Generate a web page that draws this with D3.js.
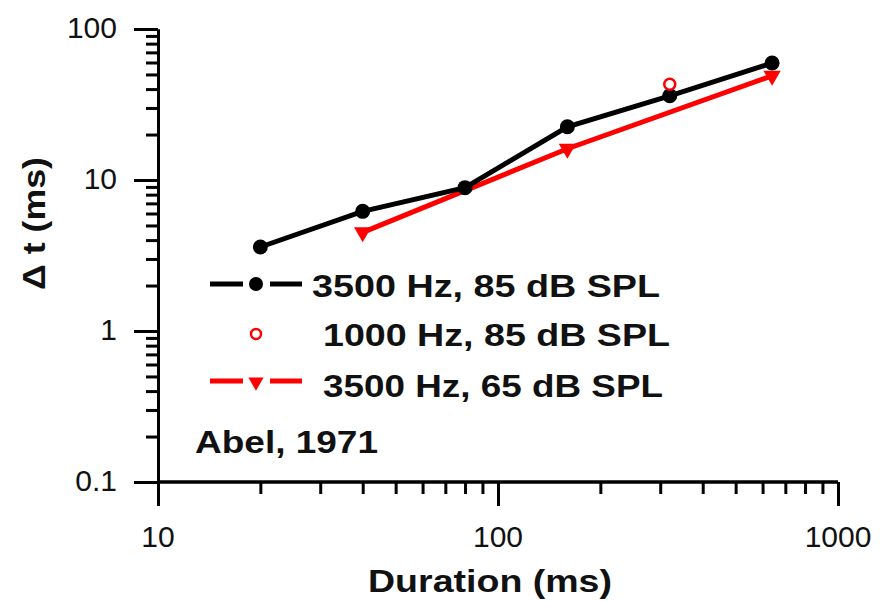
<!DOCTYPE html>
<html><head><meta charset="utf-8">
<script src="https://cdn.jsdelivr.net/npm/d3@7"></script>
<style>body{margin:0;background:#fff}svg{display:block}</style>
</head><body>
<svg id="c" width="880" height="601"></svg>
<script>
// Data
const durBlack = [20, 40, 80, 160, 320, 640];
const dtBlack = [3.6, 6.2, 8.9, 22.5, 36.1, 59.5];
const durOpen = [320];
const dtOpen = [43];
const durRed = [40, 160, 640];
const dtRed = [4.5, 16.1, 49];
const xMajor = [10, 100, 1000];
const xTickLabels = ["10", "100", "1000"];
const yMajor = [0.1, 1, 10, 100];
const yTickLabels = ["0.1", "1", "10", "100"];
const legendLabels = ["3500 Hz, 85 dB SPL", "1000 Hz, 85 dB SPL", "3500 Hz, 65 dB SPL"];

const svg = d3.select("#c");
const x = d3.scaleLog().domain([10, 1000]).range([158, 838]);
const y = d3.scaleLog().domain([0.1, 100]).range([482, 29]);
const font = "'Liberation Sans', Arial, sans-serif";

// minor ticks
const xMinor = x.ticks().filter(v => !xMajor.includes(v));
const yMinor = y.ticks().filter(v => !yMajor.some(m => Math.abs(m - v) < 1e-9));

function styleAxis(g) {
  g.selectAll("path, line").attr("stroke", "#000").attr("stroke-width", 3);
  g.selectAll("text").remove();
}
const gx = svg.append("g").attr("transform", "translate(0,482)");
gx.append("g").call(d3.axisBottom(x).tickValues(xMinor).tickSize(12).tickSizeOuter(0)).call(styleAxis);
gx.append("g").call(d3.axisBottom(x).tickValues(xMajor).tickSize(24).tickSizeOuter(0)).call(styleAxis);
gx.selectAll("path.domain").attr("d", `M${x(10)},0H${x(1000)}`);

const gy = svg.append("g").attr("transform", "translate(158,0)");
gy.append("g").call(d3.axisLeft(y).tickValues(yMinor).tickSize(12).tickSizeOuter(0)).call(styleAxis);
gy.append("g").call(d3.axisLeft(y).tickValues(yMajor).tickSize(24).tickSizeOuter(0)).call(styleAxis);

// tick labels
svg.append("g").selectAll("text").data(xMajor).join("text")
  .attr("x", d => x(d)).attr("y", 547).attr("text-anchor", "middle")
  .attr("font-family", font).attr("font-size", 30).attr("fill", "#111")
  .text((d, i) => xTickLabels[i]);
svg.append("g").selectAll("text").data(yMajor).join("text")
  .attr("x", 117).attr("y", d => y(d) + 9).attr("text-anchor", "end")
  .attr("font-family", font).attr("font-size", 30).attr("fill", "#111")
  .text((d, i) => yTickLabels[i]);

// axis titles
svg.append("text").attr("x", 368).attr("y", 592)
  .attr("font-family", font).attr("font-size", 32).attr("font-weight", "bold").attr("fill", "#111")
  .attr("textLength", 244).attr("lengthAdjust", "spacingAndGlyphs").text("Duration (ms)");
svg.append("text").attr("transform", "translate(45,290) rotate(-90)")
  .attr("font-family", font).attr("font-size", 32).attr("font-weight", "bold").attr("fill", "#111")
  .attr("textLength", 133).attr("lengthAdjust", "spacingAndGlyphs").text("Δ t (ms)");

// series
const line = d3.line().x(d => x(d[0])).y(d => y(d[1]));
const redPts = durRed.map((d, i) => [d, dtRed[i]]);
const blackPts = durBlack.map((d, i) => [d, dtBlack[i]]);
const tri = d3.symbol().type(d3.symbolTriangle).size(130);

svg.append("path").datum(redPts).attr("d", line).attr("fill", "none")
  .attr("stroke", "#ff0000").attr("stroke-width", 5);
svg.append("g").selectAll("path").data(redPts).join("path")
  .attr("d", tri).attr("fill", "#ff0000")
  .attr("transform", d => `translate(${x(d[0])},${y(d[1])}) rotate(180)`);

svg.append("path").datum(blackPts).attr("d", line).attr("fill", "none")
  .attr("stroke", "#000").attr("stroke-width", 5);
svg.append("g").selectAll("circle").data(blackPts).join("circle")
  .attr("cx", d => x(d[0])).attr("cy", d => y(d[1])).attr("r", 7.5).attr("fill", "#000");

svg.append("g").selectAll("circle").data(durOpen.map((d, i) => [d, dtOpen[i]])).join("circle")
  .attr("cx", d => x(d[0])).attr("cy", d => y(d[1])).attr("r", 5.5)
  .attr("fill", "#fff").attr("stroke", "#ff0000").attr("stroke-width", 2.5);

// legend
const lg = svg.append("g");
// row 1
lg.append("line").attr("x1", 210).attr("x2", 243).attr("y1", 284).attr("y2", 284).attr("stroke", "#000").attr("stroke-width", 5);
lg.append("line").attr("x1", 270).attr("x2", 302).attr("y1", 284).attr("y2", 284).attr("stroke", "#000").attr("stroke-width", 5);
lg.append("circle").attr("cx", 256).attr("cy", 284).attr("r", 7).attr("fill", "#000");
// row 2
lg.append("circle").attr("cx", 256).attr("cy", 334).attr("r", 5).attr("fill", "#fff").attr("stroke", "#ff0000").attr("stroke-width", 2.5);
// row 3
lg.append("line").attr("x1", 210).attr("x2", 243).attr("y1", 381).attr("y2", 381).attr("stroke", "#ff0000").attr("stroke-width", 5);
lg.append("line").attr("x1", 270).attr("x2", 302).attr("y1", 381).attr("y2", 381).attr("stroke", "#ff0000").attr("stroke-width", 5);
lg.append("path").attr("d", d3.symbol().type(d3.symbolTriangle).size(100)).attr("fill", "#ff0000")
  .attr("transform", "translate(256,382) rotate(180)");
const legX = [312, 323, 323], legY = [297, 346, 397], legW = [348, 347, 340];
lg.selectAll("text").data(legendLabels).join("text")
  .attr("x", (d, i) => legX[i]).attr("y", (d, i) => legY[i])
  .attr("font-family", font).attr("font-size", 32).attr("font-weight", "bold").attr("fill", "#111")
  .attr("textLength", (d, i) => legW[i]).attr("lengthAdjust", "spacingAndGlyphs").text(d => d);

svg.append("text").attr("x", 195).attr("y", 453)
  .attr("font-family", font).attr("font-size", 32).attr("font-weight", "bold").attr("fill", "#111")
  .attr("textLength", 183).attr("lengthAdjust", "spacingAndGlyphs").text("Abel, 1971");
</script>
</body></html>
